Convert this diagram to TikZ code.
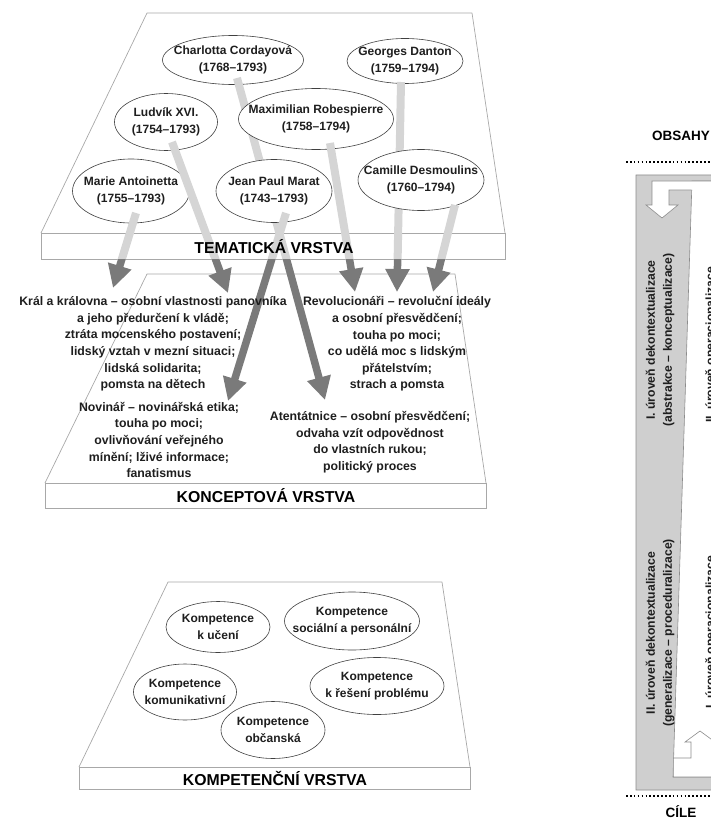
\documentclass[tikz,border=0pt]{standalone}
\usepackage{fontspec}
\setmainfont{Liberation Sans}
\usetikzlibrary{arrows.meta,shapes.geometric}
\definecolor{lightarrow}{HTML}{D5D5D5}
\definecolor{darkarrow}{HTML}{7A7A7A}
\definecolor{edgegrey}{HTML}{A8A8A8}
\definecolor{bargrey}{HTML}{CFCFCF}
\definecolor{barline}{HTML}{8C8C8C}
\definecolor{inktext}{HTML}{1E1E1E}
\begin{document}
\begin{tikzpicture}[x=1pt,y=-1pt,
  slab/.style={draw=edgegrey, line width=0.7pt, line join=round},
  slabfront/.style={draw=edgegrey, line width=0.7pt, fill=white},
  ptext/.style={align=center, text=inktext, font=\bfseries\fontsize{12}{17}\selectfont, inner sep=0pt},
  pers/.style n args={3}{ellipse, draw=black!75, line width=0.6pt, fill=white,
     minimum width=#1, minimum height=#2, inner sep=0pt, label={[ptext]center:#3}},
  lightline/.style={draw=lightarrow, line width=8pt},
  darkarrow/.style={draw=darkarrow, line width=7.5pt, -{Triangle[width=23pt,length=23pt]}},
  layer/.style={font=\bfseries\fontsize{15.8}{18}\selectfont, inner sep=0pt},
  concept/.style={align=center, text=inktext, font=\bfseries\fontsize{12.3}{16.6}\selectfont, inner sep=0pt},
  rottext/.style={rotate=90, align=center, text=inktext, font=\bfseries\fontsize{12.2}{17}\selectfont, inner sep=0pt},
  dots/.style={line width=1.6pt, dash pattern=on 1.6pt off 2.3pt},
  bartitle/.style={font=\bfseries\fontsize{13.5}{16}\selectfont, inner sep=0pt},
]
\useasboundingbox (0,0) rectangle (711,821);

% ---------- slabs ----------
\draw[slab] (41,233) -- (147,13) -- (472,13) -- (505,233);
\draw[slabfront] (41,233) rectangle (505,259);
\draw[slab] (45,483) -- (147,274) -- (455,274) -- (486,483);
\draw[slabfront] (45,483) rectangle (486,508);
\draw[slab] (79,767) -- (168,582) -- (442,582) -- (470,767);
\draw[slabfront] (79,767) rectangle (470,789);

% ---------- connector end points ----------
\coordinate (sCC) at (237,78);  \coordinate (tCC) at (325,400);
\coordinate (sGD) at (401,82);  \coordinate (tGD) at (397,292);
\coordinate (sMA) at (136,213); \coordinate (tMA) at (113,288);
\coordinate (sLX) at (172,142); \coordinate (tLX) at (228,293);
\coordinate (sJM) at (286,213); \coordinate (tJM) at (228,401);
\coordinate (sMR) at (330,143); \coordinate (tMR) at (355,292);
\coordinate (sCD) at (455,205); \coordinate (tCD) at (433,292);

% ---------- thematic layer ----------
\node[pers={141}{49}{Charlotta Cordayová\\(1768–1793)}] (cc) at (233,60) {};
\node[pers={116}{45}{Georges Danton\\(1759–1794)}] (gd) at (405,61) {};
\begin{scope}
  \clip (0,0) rectangle (711,259);
  \draw[lightline] (sCC) -- (tCC);
  \draw[lightline] (sGD) -- (tGD);
\end{scope}
\node[pers={103}{57}{Ludvík XVI.\\(1754–1793)}] (lx) at (166,122) {};
\node[pers={155}{61}{Maximilian Robespierre\\(1758–1794)}] (mr) at (316,119) {};
\node[pers={117}{64}{Marie Antoinetta\\(1755–1793)}] (ma) at (131,191) {};
\node[pers={116}{63}{Jean Paul Marat\\(1743–1793)}] (jm) at (274,191) {};
\node[pers={126}{61}{Camille Desmoulins\\(1760–1794)}] (cd) at (421,180) {};
\begin{scope}
  \clip (0,0) rectangle (711,259);
  \draw[lightline] (sMA) -- (tMA);
  \draw[lightline] (sLX) -- (tLX);
  \draw[lightline] (sJM) -- (tJM);
  \draw[lightline] (sMR) -- (tMR);
  \draw[lightline] (sCD) -- (tCD);
\end{scope}
\begin{scope}
  \clip (0,259) rectangle (711,821);
  \draw[darkarrow] (sCC) -- (tCC);
  \draw[darkarrow] (sGD) -- (tGD);
  \draw[darkarrow] (sMA) -- (tMA);
  \draw[darkarrow] (sLX) -- (tLX);
  \draw[darkarrow] (sJM) -- (tJM);
  \draw[darkarrow] (sMR) -- (tMR);
  \draw[darkarrow] (sCD) -- (tCD);
\end{scope}
\node[layer] (L1) at (274,247) {TEMATICKÁ VRSTVA};

% ---------- concept layer ----------
\node[concept] (c1) at (153,344) {Král a královna – osobní vlastnosti panovníka\\a jeho předurčení k vládě;\\ztráta mocenského postavení;\\lidský vztah v mezní situaci;\\lidská solidarita;\\pomsta na dětech};
\node[concept] (c2) at (397,344) {Revolucionáři – revoluční ideály\\a osobní přesvědčení;\\touha po moci;\\co udělá moc s lidským\\přátelstvím;\\strach a pomsta};
\node[concept] (c3) at (159,440) {Novinář – novinářská etika;\\touha po moci;\\ovlivňování veřejného\\mínění; lživé informace;\\fanatismus};
\node[concept] (c4) at (370,442) {Atentátnice – osobní přesvědčení;\\odvaha vzít odpovědnost\\do vlastních rukou;\\politický proces};
\node[layer] (L2) at (266,496) {KONCEPTOVÁ VRSTVA};

% ---------- competence layer ----------
\node[pers={104}{51}{Kompetence\\k učení}] (k1) at (218,627) {};
\node[pers={135}{58}{Kompetence\\sociální a personální}] (k2) at (352,621) {};
\node[pers={103}{56}{Kompetence\\komunikativní}] (k3) at (185,692) {};
\node[pers={134}{57}{Kompetence\\k řešení problému}] (k4) at (377,686) {};
\node[pers={104}{57}{Kompetence\\občanská}] (k5) at (273,730) {};
\node[layer] (L3) at (275,778) {KOMPETENČNÍ VRSTVA};

% ---------- right part ----------
\node[bartitle] (obs) at (681,136) {OBSAHY};
\coordinate (d1a) at (626,162); \coordinate (d1b) at (714,162);
\draw[dots] (d1a) -- (d1b);
\filldraw[fill=bargrey, draw=barline, line width=0.6pt]
  (636,175) -- (714,175) -- (714,181) -- (692,181) -- (673,777) -- (714,777)
  -- (714,790) -- (636,790) -- cycle;
\filldraw[fill=white, draw=barline, line width=0.6pt]
  (714,181) -- (652,181) -- (652,205) -- (646,205) -- (662,218) -- (678,205)
  -- (669,205) -- (669,190) -- (691.7,190);
\filldraw[fill=white, draw=barline, line width=0.6pt]
  (714,777) -- (673.4,777) -- (673.4,758) -- (691,758) -- (691,742) -- (685,742)
  -- (700,731) -- (715,742);
\node[rottext] (g1) at (660,340) {I. úroveň dekontextualizace\\(abstrakce – konceptualizace)};
\node[rottext] (g2) at (660,633) {II. úroveň dekontextualizace\\(generalizace – proceduralizace)};
\node[rottext] (w1) at (711,345) {II. úroveň operacionalizace};
\node[rottext] (w2) at (711,632) {I. úroveň operacionalizace};
\coordinate (d2a) at (626,796); \coordinate (d2b) at (714,796);
\draw[dots] (d2a) -- (d2b);
\node[bartitle] (cil) at (681,812) {CÍLE};
\end{tikzpicture}
\end{document}
